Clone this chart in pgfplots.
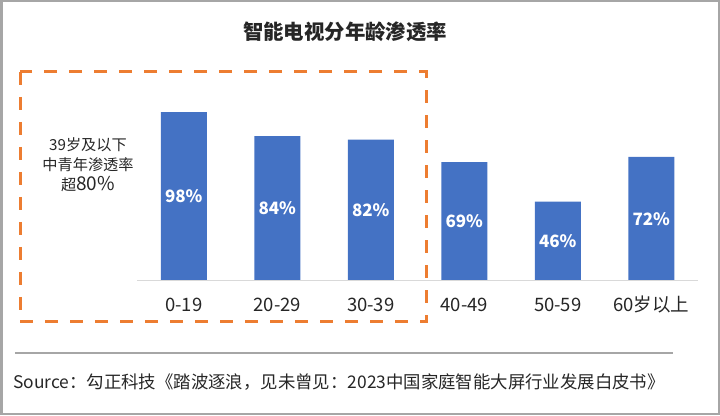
\documentclass[border=0pt]{standalone}
\usepackage{fontspec}
\setmainfont{Noto Sans CJK SC}
\usepackage{pgfplots}
\pgfplotsset{compat=1.18}
\usepackage{pgfplotstable}

\definecolor{barblue}{HTML}{4472C4}
\definecolor{boxorange}{HTML}{ED7D31}
\definecolor{framegray}{HTML}{A6A6A6}
\definecolor{axisgray}{HTML}{D9D9D9}
\definecolor{txt}{HTML}{262626}

% penetration rate by age group (%)
\pgfplotstableread{
x v
0 98
1 84
2 82
3 69
4 46
5 72
}\penetration

\begin{document}
\begin{tikzpicture}
% the axis covers the whole picture: 720bp x 415bp
\begin{axis}[scale only axis,
    width=720bp, height=415bp,
    xmin=-1.96524, xmax=5.73529, ymin=-77.726, ymax=162.993,
    axis y line=none, axis x line*=bottom,
    x axis line style={draw=none},
    xtick={0,...,5},
    xticklabels={0-19,20-29,30-39,40-49,50-59,60岁以上},
    major tick length=0pt,
    xticklabel style={font=\fontsize{18.5bp}{22bp}\selectfont, text=txt, anchor=base, yshift=104bp},
    /pgf/number format/assume math mode=true,
    clip=false]
  \addplot[ybar, bar width=46bp, fill=barblue, draw=none] table[x=x, y=v] {\penetration};
  \addplot[draw=none, mark=none, point meta=explicit,
    nodes near coords={\pgfmathprintnumber{\pgfplotspointmeta}\%},
    every node near coord/.append style={font=\bfseries\fontsize{17bp}{20bp}\selectfont, text=white, anchor=center}]
    table[x=x, y expr=\thisrow{v}/2, meta=v] {\penetration};

  % baseline
  \draw[axisgray, line width=1bp] (axis cs:-0.5,0) -- (axis cs:5.5,0);

  % outer frame
  \draw[framegray, line width=2.5bp]
    ([shift={(1.25bp,1.25bp)}]rel axis cs:0,0) rectangle ([shift={(-1.25bp,-1.25bp)}]rel axis cs:1,1);

  % title
  \node[font=\bfseries\fontsize{20.4bp}{24bp}\selectfont, text=txt] at (rel axis cs:0.47917,0.92289) {智能电视分年龄渗透率};

  % dashed highlight box and note
  \draw[boxorange, line width=3bp, dash pattern=on 13bp off 12bp]
    (rel axis cs:0.02778,0.82651) rectangle (rel axis cs:0.59167,0.22410);
  \node[align=center, font=\fontsize{15.2bp}{20bp}\selectfont, text=txt] at (rel axis cs:0.12222,0.60241)
    {39岁及以下\\中青年渗透率\\超{\fontsize{19bp}{20bp}\selectfont 80\%}};

  % source
  \draw[framegray, line width=2bp] (rel axis cs:0.020833,0.149398) -- (rel axis cs:0.934722,0.149398);
  \node[anchor=west, inner sep=0pt, font=\fontsize{17.4bp}{20bp}\selectfont, text=txt] at (rel axis cs:0.018056,0.079518)
    {Source：勾正科技《踏波逐浪，见未曾见：2023中国家庭智能大屏行业发展白皮书》};
\end{axis}
\end{tikzpicture}
\end{document}
